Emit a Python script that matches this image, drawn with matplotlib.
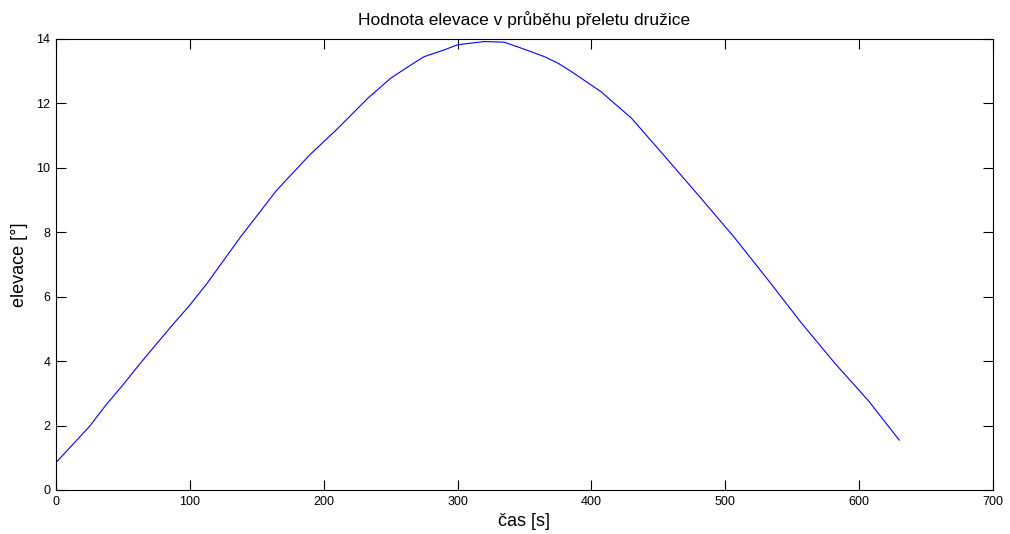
import matplotlib
matplotlib.use("Agg")
import matplotlib.pyplot as plt

# values
cas = [0, 25, 37, 50, 62, 75, 87, 100, 113, 138, 165, 190, 208, 233, 250,
       265, 275, 290, 300, 320, 335, 350, 365, 375, 385, 407, 430, 455,
       482, 507, 532, 557, 582, 607, 630]
elevace = [0.85, 1.97, 2.62, 3.26, 3.88, 4.53, 5.12, 5.74, 6.42, 7.86, 9.31,
           10.42, 11.12, 12.16, 12.78, 13.19, 13.45, 13.66, 13.82, 13.92,
           13.90, 13.68, 13.45, 13.25, 12.99, 12.37, 11.54, 10.35, 9.05,
           7.83, 6.52, 5.18, 3.93, 2.77, 1.55]
x_ticks = [0, 100, 200, 300, 400, 500, 600, 700]
y_ticks = [0, 2, 4, 6, 8, 10, 12, 14]

plt.rcParams['font.family'] = ['Liberation Sans', 'DejaVu Sans']

fig = plt.figure(figsize=(10.1, 5.34), dpi=100)
ax = fig.add_axes([0.0554, 0.0824, 0.9277, 0.8446])
ax.plot(cas, elevace, color='#0000ff', linewidth=0.8)

ax.set_xlim(0, 700)
ax.set_ylim(0, 14)
ax.set_xticks(x_ticks)
ax.set_yticks(y_ticks)
ax.tick_params(direction='in', length=7, width=0.8, top=True, right=True,
               labelsize=9, pad=4)
for s in ax.spines.values():
    s.set_linewidth(0.8)

ax.set_title('Hodnota elevace v průběhu přeletu družice', fontsize=12.5, pad=10)
ax.set_xlabel('čas [s]', fontsize=13, labelpad=4)
ax.set_ylabel('elevace [°]', fontsize=13, labelpad=6)

fig.savefig('out.png', dpi=100)
